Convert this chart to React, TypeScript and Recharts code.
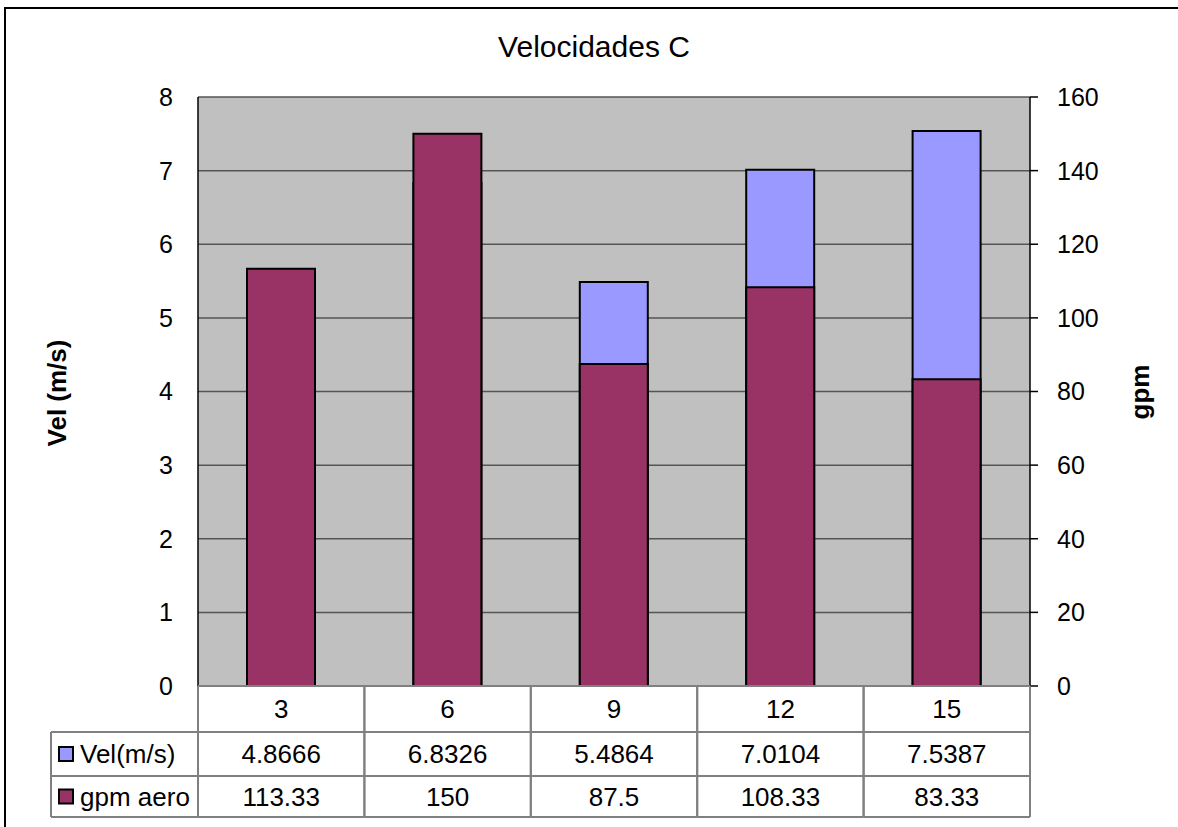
import React from 'react';
import { BarChart, Bar, XAxis, YAxis, CartesianGrid } from 'recharts';

// Values
const categories = ['3', '6', '9', '12', '15'];
const velValues = [4.8666, 6.8326, 5.4864, 7.0104, 7.5387];
const gpmValues = [113.33, 150, 87.5, 108.33, 83.33];
const velTicks = [0, 1, 2, 3, 4, 5, 6, 7, 8];
const gpmTicks = [0, 20, 40, 60, 80, 100, 120, 140, 160];

const seriesNames = ['Vel(m/s)', 'gpm aero'];
const seriesColors = ['#9999FF', '#993366'];

const data = categories.map((c, i) => ({ dist: c, vel: velValues[i], gpm: gpmValues[i] }));

const W = 1178;
const H = 827;
const PLOT_LEFT = 198;
const PLOT_RIGHT = 1030;
const BAND = (PLOT_RIGHT - PLOT_LEFT) / categories.length;
const FONT = '"Liberation Sans", Arial, sans-serif';
const GRID = '#808080';

// each x-axis tick draws one column of the data table
const TableTick = (props: any) => {
  const { x, y, payload } = props;
  const i = payload.index;
  const left = x - BAND / 2;
  const right = x + BAND / 2;
  const rows = [y, y + 46, y + 90, y + 131];
  const centers = [y + 23, y + 68, y + 110.5];
  const texts = [categories[i], String(velValues[i]), String(gpmValues[i])];
  return (
    <g fontFamily={FONT} fontSize={26} fill="#000">
      {rows.map((ry, k) => (
        <line key={'h' + k} x1={left} x2={right} y1={ry} y2={ry} stroke={GRID} strokeWidth={2} />
      ))}
      <line x1={left} x2={left} y1={y} y2={rows[3]} stroke={GRID} strokeWidth={2} />
      <line x1={right} x2={right} y1={y} y2={rows[3]} stroke={GRID} strokeWidth={2} />
      {texts.map((t, k) => (
        <text key={'t' + k} x={x} y={centers[k]} textAnchor="middle" dominantBaseline="central" fill="#000">
          {t}
        </text>
      ))}
      {i === 0 && (
        <g>
          <line x1={51} x2={left} y1={rows[1]} y2={rows[1]} stroke={GRID} strokeWidth={2} />
          <line x1={51} x2={left} y1={rows[2]} y2={rows[2]} stroke={GRID} strokeWidth={2} />
          <line x1={51} x2={left} y1={rows[3]} y2={rows[3]} stroke={GRID} strokeWidth={2} />
          <line x1={51} x2={51} y1={rows[1]} y2={rows[3]} stroke={GRID} strokeWidth={2} />
          {seriesNames.map((n, k) => (
            <g key={n}>
              <rect x={59} y={centers[k + 1] - 7} width={14} height={14} fill={seriesColors[k]} stroke="#000" strokeWidth={2} />
              <text x={80} y={centers[k + 1]} dominantBaseline="central" fill="#000">{n}</text>
            </g>
          ))}
        </g>
      )}
    </g>
  );
};

const App = () => {
  return (
    <div style={{ position: 'absolute', left: 0, top: 0, width: W, height: H, overflow: 'hidden', background: '#fff', fontFamily: FONT }}>
      <div style={{ position: 'absolute', left: 4, top: 7, width: 2000, height: 2000, borderLeft: '2px solid #000', borderTop: '2px solid #000' }} />
      <BarChart
        width={W}
        height={H}
        data={data}
        margin={{ top: 97, right: 0, bottom: 10, left: 0 }}
        barSize={68}
        barGap={-68}
        style={{ position: 'absolute', left: 0, top: 0 }}
      >
        <CartesianGrid yAxisId="vel" vertical={false} stroke="#555" strokeWidth={1.5} fill="#C0C0C0" fillOpacity={1} />
        <XAxis
          dataKey="dist"
          height={131}
          interval={0}
          axisLine={false}
          tickLine={false}
          tickSize={0}
          tickMargin={0}
          tick={<TableTick />}
        />
        <YAxis
          yAxisId="vel"
          orientation="left"
          width={198}
          domain={[0, 8]}
          ticks={velTicks}
          axisLine={{ stroke: '#000', strokeWidth: 1.5 }}
          tickLine={false}
          tickSize={0}
          tickMargin={25}
          tick={{ fill: '#000', fontSize: 25, fontFamily: FONT }}
        />
        <YAxis
          yAxisId="gpm"
          orientation="right"
          width={148}
          domain={[0, 160]}
          ticks={gpmTicks}
          axisLine={{ stroke: '#000', strokeWidth: 1.5 }}
          tickLine={{ stroke: '#000', strokeWidth: 1.5 }}
          tickSize={8}
          tickMargin={19}
          tick={{ fill: '#000', fontSize: 25, fontFamily: FONT }}
        />
        <Bar yAxisId="vel" dataKey="vel" name={seriesNames[0]} fill={seriesColors[0]} stroke="#000" strokeWidth={2} isAnimationActive={false} />
        <Bar yAxisId="gpm" dataKey="gpm" name={seriesNames[1]} fill={seriesColors[1]} stroke="#000" strokeWidth={2} isAnimationActive={false} />
      </BarChart>
      <div style={{ position: 'absolute', left: 594, top: 47, transform: 'translate(-50%, -50%)', fontSize: 30, whiteSpace: 'nowrap', color: '#000' }}>
        Velocidades C
      </div>
      <div style={{ position: 'absolute', left: 57, top: 393, transform: 'translate(-50%, -50%) rotate(-90deg)', fontSize: 26, fontWeight: 'bold', whiteSpace: 'nowrap', color: '#000' }}>
        Vel (m/s)
      </div>
      <div style={{ position: 'absolute', left: 1140, top: 392, transform: 'translate(-50%, -50%) rotate(-90deg)', fontSize: 26, fontWeight: 'bold', whiteSpace: 'nowrap', color: '#000' }}>
        gpm
      </div>
    </div>
  );
};

export default App;
